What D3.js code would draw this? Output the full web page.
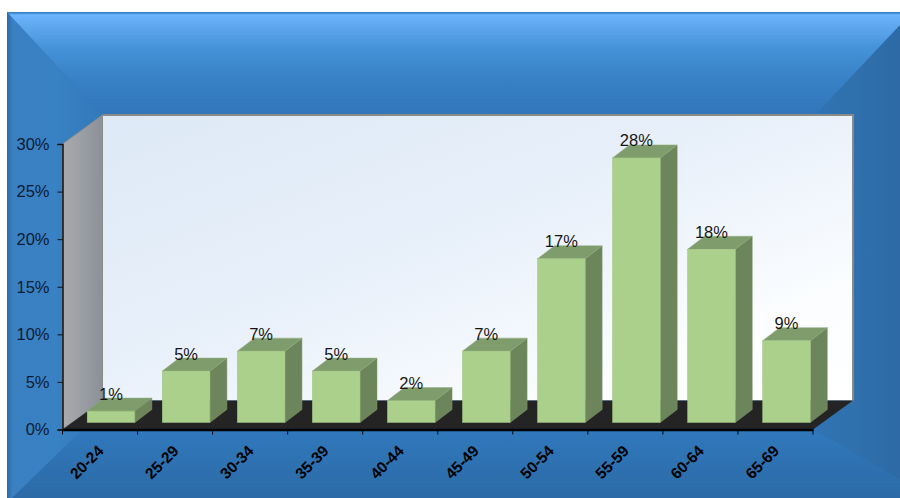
<!DOCTYPE html>
<html>
<head>
<meta charset="utf-8">
<script src="https://cdn.jsdelivr.net/npm/d3@7"></script>
<style>
  html, body { margin: 0; padding: 0; background: #fff; }
  svg { display: block; }
  text { font-family: "Liberation Sans", Arial, sans-serif; }
</style>
</head>
<body>
<svg width="900" height="498"></svg>
<script>
const categories = ['20-24','25-29','30-34','35-39','40-44','45-49','50-54','55-59','60-64','65-69'];
const values = [1.2, 5.4, 7.5, 5.4, 2.3, 7.5, 17.2, 27.8, 18.2, 8.6];
const valueLabels = ['1%','5%','7%','5%','2%','7%','17%','28%','18%','9%'];
const yTicks = [0, 5, 10, 15, 20, 25, 30];

const svg = d3.select('svg');
const width = +svg.attr('width');
const height = +svg.attr('height');

const margin = { top: 144, right: 87, bottom: 68.5, left: 62.5 };
const innerWidth = width - margin.left - margin.right;
const innerHeight = height - margin.top - margin.bottom;

// chart depth: the back wall sits up and to the right of the axes
const depthX = 40, depthY = -29;
// bar box: offset from the front axis, and its own depth
const barShiftX = 11, barShiftY = -7;
const barDepthX = 17, barDepthY = -13;

const xScale = d3.scaleBand()
    .domain(categories)
    .range([0, innerWidth])
    .paddingInner(0)
    .paddingOuter(0);

const yScale = d3.scaleLinear()
    .domain([0, 30])
    .range([innerHeight, 0]);

const defs = svg.append('defs');

const gradient = (id, x1, y1, x2, y2, stops) => {
    const grad = defs.append('linearGradient')
        .attr('id', id)
        .attr('x1', x1).attr('y1', y1)
        .attr('x2', x2).attr('y2', y2);
    stops.forEach(s => grad.append('stop').attr('offset', s[0]).attr('stop-color', s[1]));
};

gradient('bevelTop', 0, 0, 0, 1, [[0, '#2f74b6'], [0.03, '#6cb6ff'], [0.08, '#66aef6'], [0.35, '#4592d8'], [0.65, '#3881c6'], [1, '#3176b9']]);
gradient('bevelLeft', 0, 0, 1, 0, [[0, '#2c6cab'], [0.06, '#3a80c2'], [0.5, '#3881c3'], [1, '#3279bb']]);
gradient('bevelRight', 0, 0, 1, 0, [[0, '#3074b4'], [0.5, '#2f70ad'], [1, '#2d6aa6']]);
gradient('bevelBottom', 0, 0, 0, 1, [[0, '#3079bc'], [1, '#2c6aa7']]);
gradient('wall', 0, 0, 1, 1, [[0, '#dde9f6'], [0.45, '#e8f0fa'], [0.8, '#fbfdff'], [1, '#ffffff']]);
gradient('sideWall', 0, 0, 1, 0, [[0, '#a9aaac'], [1, '#8b9199']]);

// frame, four bevelled sides meeting at the plot area
const px0 = 7, py0 = 12, px1 = width, py1 = height;
const wallX0 = margin.left + depthX, wallX1 = margin.left + innerWidth + depthX;
const wallY0 = margin.top + yScale(30) + depthY, floorY = margin.top + yScale(0);

const poly = (points, fill) => svg.append('polygon')
    .attr('points', points.map(p => p.join(',')).join(' '))
    .attr('fill', fill);

// base colour under the bevels so their seams do not show white
svg.append('rect')
    .attr('x', px0).attr('y', py0)
    .attr('width', px1 - px0).attr('height', py1 - py0)
    .attr('fill', '#3279bb');

poly([[px0, py0], [px0, py1], [px0 + 5, py1], [margin.left + 20, floorY], [wallX0, wallY0]], 'url(#bevelLeft)');
poly([[px1, py0], [px1, py1 - 18], [margin.left + innerWidth, floorY], [wallX1 - 38, wallY0]], 'url(#bevelRight)');
poly([[px0 + 5, py1], [px1, py1], [px1, py1 - 18], [margin.left + innerWidth, floorY], [margin.left + 20, floorY]], 'url(#bevelBottom)');
poly([[px0, py0], [px1, py0], [px1, py0 + 13], [wallX1 - 38, wallY0], [wallX0, wallY0]], 'url(#bevelTop)');

const g = svg.append('g')
    .attr('transform', `translate(${margin.left},${margin.top})`);

const gridLeft = 0, gridRight = innerWidth, y0 = yScale(0), y30 = yScale(30);

// back wall, side wall, floor
g.append('polygon')
    .attr('points', [[gridLeft + depthX, y30 + depthY], [gridRight + depthX, y30 + depthY],
        [gridRight + depthX, y0 + depthY], [gridLeft + depthX, y0 + depthY]].join(' '))
    .attr('fill', 'url(#wall)');

g.append('polyline')
    .attr('points', [[gridLeft + depthX, y30 + depthY], [gridRight + depthX, y30 + depthY],
        [gridRight + depthX, y0 + depthY]].join(' '))
    .attr('fill', 'none')
    .attr('stroke', '#8a8a8a')
    .attr('stroke-width', 2);

g.append('polygon')
    .attr('points', [[gridLeft, y30], [gridLeft + depthX, y30 + depthY],
        [gridLeft + depthX, y0 + depthY], [gridLeft, y0]].join(' '))
    .attr('fill', 'url(#sideWall)')
    .attr('stroke', '#8a8a8a')
    .attr('stroke-width', 1);

g.append('polygon')
    .attr('points', [[gridLeft, y0], [gridRight, y0],
        [gridRight + depthX, y0 + depthY], [gridLeft + depthX, y0 + depthY]].join(' '))
    .attr('fill', '#242424');

// bars
const barWidth = xScale.bandwidth() * 0.635;
const barX = d => xScale(d) + xScale.bandwidth() / 2 + barShiftX - barWidth / 2;
const barBase = yScale(0) + barShiftY;
// the bar base sits above the axis, so heights are measured from barBase
const barTop = v => barBase - (yScale(0) - yScale(v));

const bars = g.selectAll('.bar').data(categories)
    .enter().append('g')
        .attr('class', 'bar');

bars.append('polygon')
    .attr('points', (d, i) => {
        const x = barX(d), t = barTop(values[i]);
        return [[x + barWidth, t], [x + barWidth + barDepthX, t + barDepthY],
            [x + barWidth + barDepthX, barBase + barDepthY], [x + barWidth, barBase]].join(' ');
    })
    .attr('fill', '#6c855a')
    .attr('stroke', '#7e9a6b')
    .attr('stroke-width', 0.5);

bars.append('polygon')
    .attr('points', (d, i) => {
        const x = barX(d), t = barTop(values[i]);
        return [[x, t], [x + barWidth, t], [x + barWidth + barDepthX, t + barDepthY],
            [x + barDepthX, t + barDepthY]].join(' ');
    })
    .attr('fill', '#7f9c6c')
    .attr('stroke', '#8fab7c')
    .attr('stroke-width', 0.5);

bars.append('rect')
    .attr('x', d => barX(d))
    .attr('y', (d, i) => barTop(values[i]))
    .attr('width', barWidth)
    .attr('height', (d, i) => barBase - barTop(values[i]))
    .attr('fill', '#abd08c')
    .attr('stroke', '#9dc280')
    .attr('stroke-width', 0.5);

// value labels
bars.append('text')
    .attr('x', d => barX(d) + barWidth / 2)
    .attr('y', (d, i) => barTop(values[i]) + barDepthY + 1.5)
    .attr('text-anchor', 'middle')
    .attr('font-size', 16.5)
    .attr('fill', '#151515')
    .text((d, i) => valueLabels[i]);

// axes
const yAxis = d3.axisLeft(yScale)
    .tickValues(yTicks)
    .tickFormat(d => d + '%')
    .tickSize(5)
    .tickPadding(8);

const yAxisG = g.append('g').call(yAxis);
yAxisG.select('.domain').attr('stroke', '#111').attr('stroke-width', 1.5);
yAxisG.selectAll('.tick line').attr('stroke', '#111');
yAxisG.selectAll('text')
    .attr('font-family', '"Liberation Sans", Arial, sans-serif')
    .attr('font-size', 16.5)
    .attr('fill', '#0d1c33');

const xAxis = d3.axisBottom(xScale)
    .tickSize(0)
    .tickPadding(0);

const xAxisG = g.append('g')
    .attr('transform', `translate(0,${innerHeight})`)
    .call(xAxis);

xAxisG.select('.domain').attr('stroke', '#000').attr('stroke-width', 2.5);

// ticks sit on the band edges, not the band centres
xAxisG.selectAll('.edge').data(categories.concat(['end']))
    .enter().append('line')
        .attr('class', 'edge')
        .attr('x1', (d, i) => i < categories.length ? xScale(d) : innerWidth)
        .attr('x2', (d, i) => i < categories.length ? xScale(d) : innerWidth)
        .attr('y1', 0)
        .attr('y2', 5)
        .attr('stroke', '#000');

xAxisG.selectAll('.tick text')
    .attr('font-family', '"Liberation Sans", Arial, sans-serif')
    .attr('font-size', 15.5)
    .attr('font-weight', 'bold')
    .attr('fill', '#000')
    .attr('text-anchor', 'end')
    .attr('transform', 'translate(1,19) rotate(-45)')
    .attr('dy', '0.32em')
    .attr('y', 0)
    .attr('x', 0);
</script>
</body>
</html>
